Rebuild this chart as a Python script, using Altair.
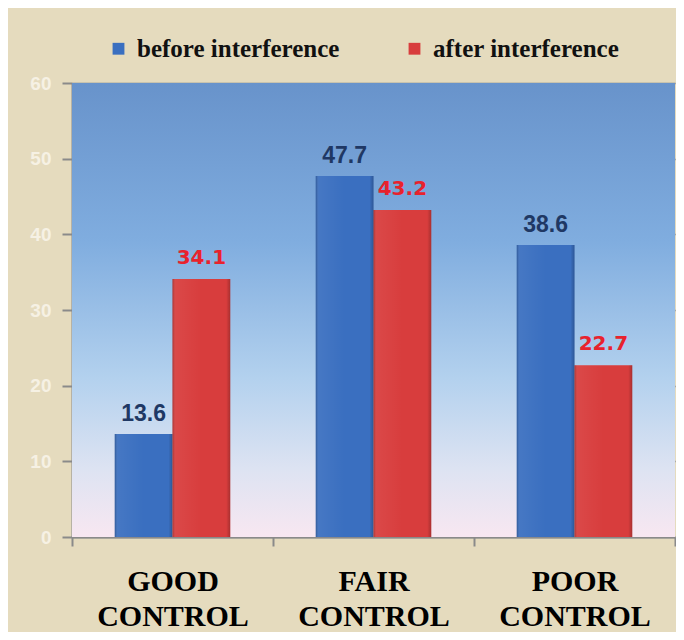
import altair as alt
import pandas as pd

categories = ["GOOD CONTROL", "FAIR CONTROL", "POOR CONTROL"]
series = ["before interference", "after interference"]
before_values = [13.6, 47.7, 38.6]
after_values = [34.1, 43.2, 22.7]
y_ticks = [0, 10, 20, 30, 40, 50, 60]

rows = []
for c, b, a in zip(categories, before_values, after_values):
    rows.append({"category": c, "series": series[0], "value": b})
    rows.append({"category": c, "series": series[1], "value": a})
df = pd.DataFrame(rows)

W, H = 603, 454

x_enc = alt.X("category:N", sort=categories,
              scale=alt.Scale(paddingInner=0, paddingOuter=0),
              axis=alt.Axis(title=None, labelExpr="split(datum.label, ' ')",
                            labelFont="Liberation Serif", labelFontWeight="bold",
                            labelFontSize=30, labelColor="#000000", labelLineHeight=35,
                            labelPadding=20, labelAngle=0, tickBand="extent",
                            tickSize=9, tickColor="#8a8a8a", tickWidth=2,
                            domainColor="#8a8a8a", domainWidth=2, grid=False))
xo_enc = alt.XOffset("series:N", sort=series,
                     scale=alt.Scale(paddingInner=0, paddingOuter=0.74))
y_enc = alt.Y("value:Q", scale=alt.Scale(domain=[0, 60], nice=False),
              axis=alt.Axis(title=None, values=y_ticks, labelFont="Liberation Sans",
                            labelFontWeight="bold", labelFontSize=19,
                            labelColor="#f6f1e4", labelPadding=11, tickSize=10,
                            tickColor="#8a8a8a", tickWidth=2, domainColor="#8a8a8a",
                            domainWidth=2, gridColor="#757b85", gridWidth=1.7))

bg = alt.Chart(alt.Data(values=[{"bg": 1}])).mark_rect(
    fill=alt.Gradient(gradient="linear", x1=0, x2=0, y1=0, y2=1,
                      stops=[alt.GradientStop(color="#6893cb", offset=0),
                             alt.GradientStop(color="#80addf", offset=0.35),
                             alt.GradientStop(color="#b3d1ee", offset=0.65),
                             alt.GradientStop(color="#dde3f2", offset=0.85),
                             alt.GradientStop(color="#f8e7f1", offset=1)])
).encode(x=alt.value(0), x2=alt.value(W), y=alt.value(0), y2=alt.value(H))

bars = alt.Chart(df).mark_bar().encode(
    x=x_enc, xOffset=xo_enc, y=y_enc,
    color=alt.Color("series:N", sort=series,
                    scale=alt.Scale(domain=series, range=["#3a6fc0", "#d83d3d"]),
                    legend=alt.Legend(title=None, orient="none", legendX=34, legendY=-47,
                                      direction="horizontal", labelFont="Liberation Serif",
                                      labelFontWeight="bold", labelFontSize=25,
                                      labelColor="#111111", labelLimit=500,
                                      symbolType="square", symbolSize=140,
                                      symbolStrokeWidth=0, columnPadding=62,
                                      labelOffset=6, padding=0))
)

shade = alt.Chart(df).mark_bar(
    fill=alt.Gradient(gradient="linear", x1=0, x2=1, y1=0, y2=0,
                      stops=[alt.GradientStop(color="rgba(0,0,0,0.22)", offset=0),
                             alt.GradientStop(color="rgba(255,255,255,0.06)", offset=0.06),
                             alt.GradientStop(color="rgba(255,255,255,0.0)", offset=0.5),
                             alt.GradientStop(color="rgba(0,0,0,0.0)", offset=0.93),
                             alt.GradientStop(color="rgba(0,0,0,0.22)", offset=1)])
).encode(x=alt.X("category:N", sort=categories), xOffset=alt.XOffset("series:N", sort=series),
         y=alt.Y("value:Q"))

txt_before = alt.Chart(df).transform_filter(alt.datum.series == series[0]).mark_text(
    font="Liberation Sans", fontWeight="bold", fontSize=23, color="#1f3864",
    baseline="alphabetic", dy=-13
).encode(x=alt.X("category:N", sort=categories), xOffset=alt.XOffset("series:N", sort=series),
         y=alt.Y("value:Q"), text=alt.Text("value:Q", format=".1f"))

txt_after = alt.Chart(df).transform_filter(alt.datum.series == series[1]).mark_text(
    font="DejaVu Sans", fontWeight="bold", fontSize=20, color="#e8222d",
    baseline="alphabetic", dy=-15
).encode(x=alt.X("category:N", sort=categories), xOffset=alt.XOffset("series:N", sort=series),
         y=alt.Y("value:Q"), text=alt.Text("value:Q", format=".1f"))

chart = alt.layer(bg, bars, shade, txt_before, txt_after).properties(
    width=W, height=H,
    autosize=alt.AutoSizeParams(type="none"),
    padding={"left": 64, "top": 75, "right": 1, "bottom": 95},
    background="#e5dbbe",
).configure_view(stroke=None)

chart.save("out.html", embed_options={"renderer": "svg", "actions": False})
